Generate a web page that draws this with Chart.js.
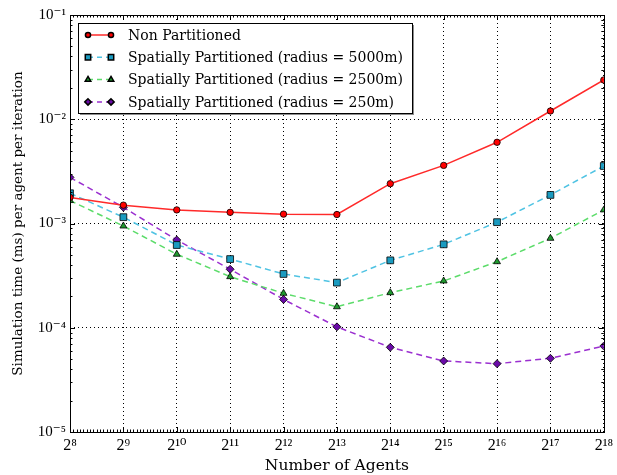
<!DOCTYPE html>
<html>
<head>
<meta charset="utf-8">
<script src="https://cdn.jsdelivr.net/npm/chart.js@4.4.0/dist/chart.umd.min.js"></script>
<style>
  html, body { margin: 0; padding: 0; background: #fff; }
  #wrap { width: 617px; height: 475px; }
</style>
</head>
<body>
<div id="wrap"><canvas id="myChart"></canvas></div>
<script>
// x values are powers of two: 2^exponent agents
const exponents = [8, 9, 10, 11, 12, 13, 14, 15, 16, 17, 18];

const nonPartitioned = [1.78e-3, 1.50e-3, 1.35e-3, 1.28e-3, 1.23e-3, 1.22e-3, 2.41e-3, 3.61e-3, 6.01e-3, 1.20e-2, 2.38e-2];
const radius5000 = [1.95e-3, 1.15e-3, 6.22e-4, 4.56e-4, 3.28e-4, 2.71e-4, 4.43e-4, 6.31e-4, 1.03e-3, 1.88e-3, 3.56e-3];
const radius2500 = [1.66e-3, 9.46e-4, 5.07e-4, 3.09e-4, 2.14e-4, 1.59e-4, 2.17e-4, 2.81e-4, 4.30e-4, 7.21e-4, 1.35e-3];
const radius250 = [2.77e-3, 1.43e-3, 6.95e-4, 3.64e-4, 1.87e-4, 1.02e-4, 6.49e-5, 4.80e-5, 4.52e-5, 5.09e-5, 6.68e-5];

const seriesLabels = [
    'Non Partitioned',
    'Spatially Partitioned (radius = 5000m)',
    'Spatially Partitioned (radius = 2500m)',
    'Spatially Partitioned (radius = 250m)'
];
const yDecades = [-5, -4, -3, -2, -1];

const FONT = "'DejaVu Serif', 'Liberation Serif', serif";
const TICKFONT = "'Liberation Serif', 'DejaVu Serif', serif";
const sup = { '0': '⁰', '1': '¹', '2': '²', '3': '³', '4': '⁴', '5': '⁵', '6': '⁶', '7': '⁷', '8': '⁸', '9': '⁹', '-': '⁻' };
const toSup = (n) => String(n).split('').map(c => sup[c]).join('');

const pts = (vals) => vals.map((v, i) => ({ x: exponents[i], y: v }));

const isDecade = (v) => {
    const l = Math.log10(v);
    return Math.abs(l - Math.round(l)) < 1e-6;
};

const series = [
    { data: nonPartitioned, line: '#ff2a2a', fill: '#ff0000', style: 'circle', dash: [], r: 3.2 },
    { data: radius5000, line: '#4fc3e3', fill: '#1a9bc0', style: 'rect', dash: [6, 4], r: 4.8 },
    { data: radius2500, line: '#5cdc6a', fill: '#1f9a2e', style: 'triangle', dash: [6, 4], r: 4 },
    { data: radius250, line: '#9b30d0', fill: '#6a0aa8', style: 'rectRot', dash: [6, 4], r: 4 }
];

// frame, inward ticks and legend, matplotlib style
const mplDecor = {
    id: 'mplDecor',
    afterDraw(chart) {
        const { ctx, chartArea: a, scales } = chart;
        const xs = scales.x, ys = scales.y;
        ctx.save();
        ctx.strokeStyle = '#000';
        ctx.lineWidth = 1;
        ctx.setLineDash([]);
        ctx.beginPath();
        // x ticks
        for (let e = 8; e <= 18; e++) {
            const px = Math.round(xs.getPixelForValue(e)) + 0.5;
            ctx.moveTo(px, a.bottom); ctx.lineTo(px, a.bottom - 5);
            ctx.moveTo(px, a.top); ctx.lineTo(px, a.top + 5);
            if (e < 18) {
                for (let k = 1; k < 16; k++) {
                    const mx = Math.round(xs.getPixelForValue(e + k / 16)) + 0.5;
                    ctx.moveTo(mx, a.bottom); ctx.lineTo(mx, a.bottom - 2.5);
                    ctx.moveTo(mx, a.top); ctx.lineTo(mx, a.top + 2.5);
                }
            }
        }
        // y ticks
        yDecades.forEach(d => {
            const py = Math.round(ys.getPixelForValue(Math.pow(10, d))) + 0.5;
            ctx.moveTo(a.left, py); ctx.lineTo(a.left + 5, py);
            ctx.moveTo(a.right, py); ctx.lineTo(a.right - 5, py);
            if (d < -1) {
                for (let m = 2; m < 10; m++) {
                    const my = Math.round(ys.getPixelForValue(m * Math.pow(10, d))) + 0.5;
                    ctx.moveTo(a.left, my); ctx.lineTo(a.left + 2.5, my);
                    ctx.moveTo(a.right, my); ctx.lineTo(a.right - 2.5, my);
                }
            }
        });
        ctx.stroke();
        ctx.strokeRect(Math.round(a.left) + 0.5, Math.round(a.top) + 0.5,
            Math.round(a.right - a.left), Math.round(a.bottom - a.top));

        // legend
        const lx = 78, ly = 23, lw = 334, lh = 90;
        ctx.fillStyle = '#8c8c8c';
        ctx.fillRect(lx + 2, ly + 2, lw, lh);
        ctx.fillStyle = '#fff';
        ctx.fillRect(lx, ly, lw, lh);
        ctx.strokeStyle = '#000';
        ctx.strokeRect(lx + 0.5, ly + 0.5, lw, lh);
        ctx.font = "14px " + FONT;
        ctx.textBaseline = 'middle';
        series.forEach((s, i) => {
            const y = 35 + i * 22.3;
            ctx.strokeStyle = s.line;
            ctx.lineWidth = 1.5;
            ctx.setLineDash(s.dash.length ? [5, 4] : []);
            ctx.beginPath();
            ctx.moveTo(88, y); ctx.lineTo(111, y);
            ctx.stroke();
            ctx.setLineDash([]);
            ctx.fillStyle = s.fill;
            ctx.strokeStyle = '#000';
            [88, 111].forEach(px => {
                Chart.helpers.drawPoint(ctx, { pointStyle: s.style, radius: s.r * 0.8, borderWidth: 0.8 }, px, y);
            });
            ctx.fillStyle = '#000';
            ctx.fillText(seriesLabels[i], 128, y + 1);
        });
        ctx.restore();
    }
};

const ctx = document.getElementById('myChart');
new Chart(ctx, {
    type: 'line',
    data: {
        datasets: series.map((s, i) => ({
            label: seriesLabels[i],
            data: pts(s.data),
            borderColor: s.line,
            borderWidth: 1.5,
            borderDash: s.dash,
            backgroundColor: s.fill,
            pointStyle: s.style,
            pointRadius: s.r,
            pointBorderColor: '#000',
            pointBorderWidth: 0.8,
            pointBackgroundColor: s.fill,
            tension: 0,
            clip: 0
        }))
    },
    options: {
        responsive: true,
        maintainAspectRatio: false,
        animation: false,
        layout: { padding: { top: 15, right: 9, left: 0, bottom: 0 } },
        plugins: {
            legend: { display: false },
            tooltip: { enabled: false }
        },
        scales: {
            x: {
                type: 'linear',
                min: 8,
                max: 18,
                afterFit: (scale) => { scale.height = 43; },
                ticks: {
                    stepSize: 1,
                    padding: 4,
                    color: '#000',
                    font: { family: TICKFONT, size: 16 },
                    callback: (v) => '2' + toSup(v)
                },
                grid: { color: '#000', lineWidth: 1, drawTicks: false },
                border: { display: false, dash: [1, 3] },
                title: {
                    display: true,
                    text: 'Number of Agents',
                    color: '#000',
                    font: { family: FONT, size: 15.5 },
                    padding: { top: 3, bottom: 0 }
                }
            },
            y: {
                type: 'logarithmic',
                min: 1e-5,
                max: 1e-1,
                afterFit: (scale) => { scale.width = 70; },
                ticks: {
                    autoSkip: false,
                    padding: 4,
                    color: '#000',
                    font: { family: TICKFONT, size: 15 },
                    callback: (v) => isDecade(v) ? '10' + toSup(Math.round(Math.log10(v))) : ''
                },
                grid: {
                    color: (c) => (c.tick && isDecade(c.tick.value)) ? '#000' : 'rgba(0,0,0,0)',
                    lineWidth: 1,
                    drawTicks: false
                },
                border: { display: false, dash: [1, 3] },
                title: {
                    display: true,
                    text: 'Simulation time (ms) per agent per iteration',
                    color: '#000',
                    font: { family: FONT, size: 13.5 },
                    padding: { top: 10, bottom: 4 }
                }
            }
        }
    },
    plugins: [mplDecor]
});
</script>
</body>
</html>
